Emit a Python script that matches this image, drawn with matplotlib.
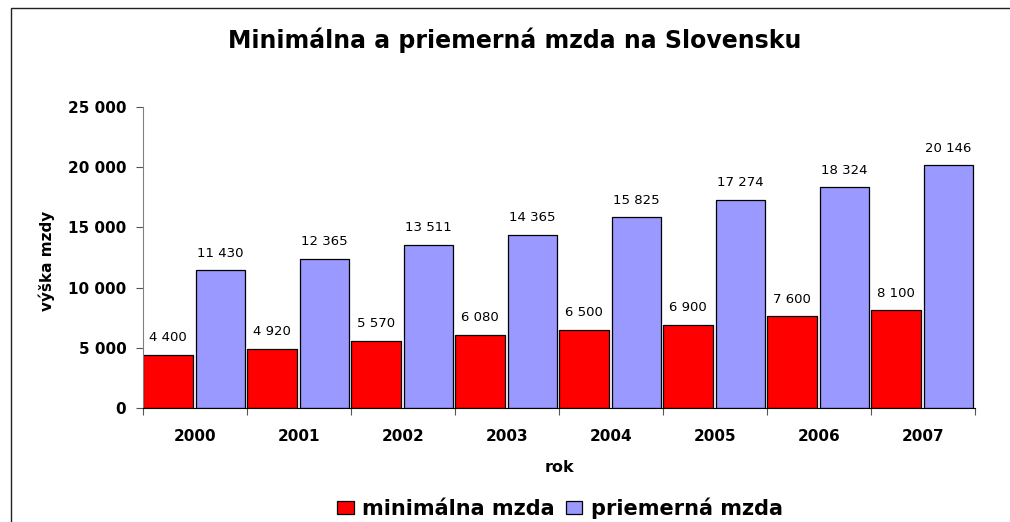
import numpy as np
import matplotlib
matplotlib.use('Agg')
import matplotlib.pyplot as plt
from matplotlib.ticker import FuncFormatter, FixedLocator
from matplotlib.patches import Rectangle

# Data z grafu
roky = ['2000', '2001', '2002', '2003', '2004', '2005', '2006', '2007']
minimalna_mzda = [4400, 4920, 5570, 6080, 6500, 6900, 7600, 8100]
priemerna_mzda = [11430, 12365, 13511, 14365, 15825, 17274, 18324, 20146]

plt.rcParams['font.family'] = ['DejaVu Sans']


def medzera(v, pos=None):
    # tisice oddelene medzerou
    return f'{v:,.0f}'.replace(',', ' ')


fig = plt.figure(figsize=(10.1, 5.22), dpi=100)
ax = fig.add_axes([143 / 1010, 1 - 408 / 522, 832 / 1010, 301 / 522])

# ramik okolo grafu (len lava a horna hrana je vidiet)
fig.patches.append(Rectangle((10.5 / 1010, -0.1), 1.2, 1.1 - 7.5 / 522,
                             transform=fig.transFigure, fill=False,
                             edgecolor='#202020', linewidth=1.0))

x = np.arange(len(roky))
bary_min = ax.bar(x, minimalna_mzda, width=0.48, align='edge', color='#ff0000',
                  edgecolor='black', linewidth=0.9, label='minimálna mzda')
bary_priem = ax.bar(x + 0.51, priemerna_mzda, width=0.47, align='edge', color='#9999ff',
                    edgecolor='black', linewidth=0.9, label='priemerná mzda')

for bars in (bary_min, bary_priem):
    for b in bars:
        ax.annotate(medzera(b.get_height()), (b.get_x() + b.get_width() / 2, b.get_height()),
                    xytext=(0, 12.5), textcoords='offset points', ha='center', va='center',
                    fontsize=9.5, color='black')

ax.set_xlim(0, len(roky))
ax.set_ylim(0, 25000)
ax.set_yticks(np.arange(0, 25001, 5000))
ax.yaxis.set_major_formatter(FuncFormatter(medzera))

# hlavne ticky na hraniciach kategorii, popisky v strede
ax.xaxis.set_major_locator(FixedLocator(np.arange(0, len(roky) + 1)))
ax.xaxis.set_minor_locator(FixedLocator(x + 0.5))
ax.set_xticklabels([], minor=False)
ax.set_xticklabels(roky, minor=True)
ax.tick_params(axis='x', which='major', length=5, color='#555555', width=0.8)
ax.tick_params(axis='x', which='minor', length=0, pad=15)
ax.tick_params(axis='y', length=5, color='#555555', width=0.8, pad=7)
for t in ax.get_xticklabels(minor=True) + ax.get_yticklabels():
    t.set_fontweight('bold')
    t.set_fontsize(11)

ax.spines['top'].set_visible(False)
ax.spines['right'].set_visible(False)
ax.spines['left'].set_color('#808080')
ax.spines['bottom'].set_color('black')

ax.set_xlabel('rok', fontsize=11.5, fontweight='bold')
ax.xaxis.set_label_coords(0.5, -0.199)
ax.xaxis.label.set_va('center')
ax.set_ylabel('výška mzdy', fontsize=11, fontweight='bold')
ax.yaxis.set_label_coords(-96 / 832, 0.488)
ax.yaxis.label.set_va('center')

fig.text(515 / 1010, 1 - 48 / 522, 'Minimálna a priemerná mzda na Slovensku',
         ha='center', va='baseline', fontsize=17, fontweight='bold')

leg = fig.legend(handles=[bary_min, bary_priem], loc='center', ncol=2,
                 bbox_to_anchor=(560 / 1010, 1 - 508 / 522), frameon=False,
                 prop={'weight': 'bold', 'size': 15}, handlelength=0.8,
                 handleheight=0.6, handletextpad=0.4, columnspacing=0.5)

plt.savefig('out.png', dpi=100)
